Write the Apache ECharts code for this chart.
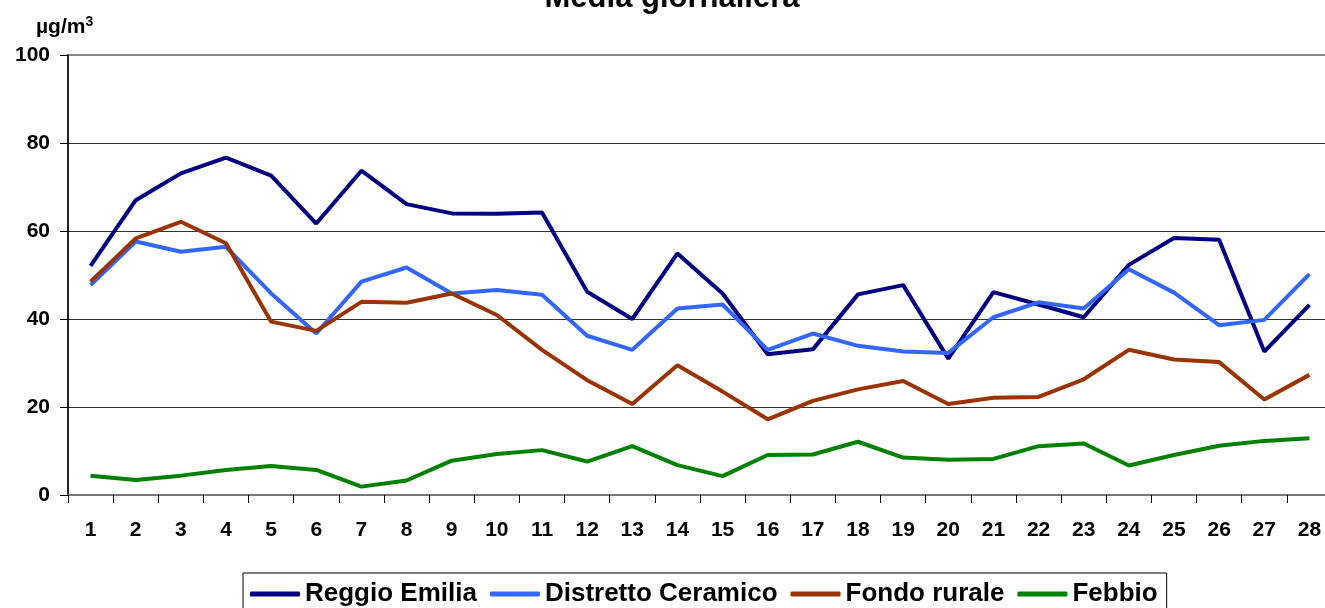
<!DOCTYPE html>
<html>
<head>
<meta charset="utf-8">
<script src="https://cdn.jsdelivr.net/npm/echarts@6/dist/echarts.min.js"></script>
<style>
  html, body { margin: 0; padding: 0; background: #fff; overflow: hidden; }
  #main { width: 1332px; height: 608px; }
</style>
</head>
<body>
<div id="main"></div>
<script>
  var days = ['1','2','3','4','5','6','7','8','9','10','11','12','13','14','15','16','17','18','19','20','21','22','23','24','25','26','27','28'];
  var reggioEmilia = [52.1, 67.0, 73.1, 76.7, 72.6, 61.7, 73.7, 66.1, 64.0, 63.9, 64.2, 46.2, 40.0, 54.9, 45.8, 32.0, 33.1, 45.6, 47.7, 31.0, 46.1, 43.3, 40.4, 52.3, 58.4, 58.0, 32.6, 43.2];
  var distrettoCeramico = [47.7, 57.6, 55.3, 56.4, 45.8, 36.7, 48.5, 51.7, 45.8, 46.6, 45.5, 36.2, 33.0, 42.4, 43.3, 33.0, 36.7, 33.9, 32.6, 32.3, 40.4, 43.8, 42.4, 51.3, 46.0, 38.6, 39.8, 50.2];
  var fondoRurale = [48.5, 58.3, 62.1, 57.2, 39.4, 37.3, 43.9, 43.7, 45.8, 40.9, 33.0, 26.1, 20.7, 29.5, 23.5, 17.2, 21.4, 24.0, 25.9, 20.7, 22.1, 22.3, 26.3, 33.0, 30.8, 30.2, 21.7, 27.3];
  var febbio = [4.4, 3.4, 4.4, 5.7, 6.6, 5.7, 1.9, 3.3, 7.8, 9.3, 10.2, 7.6, 11.1, 6.8, 4.3, 9.1, 9.2, 12.1, 8.5, 8.0, 8.2, 11.1, 11.7, 6.7, 9.1, 11.2, 12.3, 12.9];

  var chart = echarts.init(document.getElementById('main'));
  var font = 'Arial, "Liberation Sans", sans-serif';

  function line(name, data, color) {
    return {
      name: name,
      type: 'line',
      data: data,
      symbol: 'none',
      lineStyle: { color: color, width: 4 },
      itemStyle: { color: color },
      animation: false
    };
  }

  chart.setOption({
    animation: false,
    title: {
      text: 'Media giornaliera',
      left: 667,
      textAlign: 'center',
      top: -22,
      textStyle: { fontFamily: font, fontWeight: 'bold', fontSize: 31, color: '#000' }
    },
    graphic: [{
      type: 'text',
      left: 36,
      top: 15,
      style: {
        text: '{u|µg/m}{s|3}',
        rich: {
          u: { fontFamily: font, fontWeight: 'bold', fontSize: 21, fill: '#000' },
          s: { fontFamily: font, fontWeight: 'bold', fontSize: 14, fill: '#000', verticalAlign: 'top', padding: [0, 0, 10, 0] }
        }
      }
    }],
    legend: {
      top: 573,
      left: 243,
      data: ['Reggio Emilia', 'Distretto Ceramico', 'Fondo rurale', 'Febbio'],
      icon: 'roundRect',
      itemWidth: 50,
      itemHeight: 5,
      itemGap: 13,
      padding: [8, 9, 22, 7],
      borderColor: '#000',
      borderWidth: 1,
      textStyle: { fontFamily: font, fontWeight: 'bold', fontSize: 26, color: '#000' }
    },
    grid: {
      left: 68,
      right: 0,
      top: 55,
      bottom: 113,
      show: true,
      borderColor: '#888',
      borderWidth: 2,
      containLabel: false
    },
    xAxis: {
      type: 'category',
      data: days,
      boundaryGap: true,
      axisLine: { lineStyle: { color: '#777', width: 2 } },
      axisTick: { show: true, interval: 0, length: 8, lineStyle: { color: '#000', width: 1 } },
      axisLabel: { interval: 0, margin: 25, fontFamily: font, fontWeight: 'bold', fontSize: 21, color: '#000' },
      splitLine: { show: false }
    },
    yAxis: {
      type: 'value',
      min: 0,
      max: 100,
      interval: 20,
      axisLine: { show: true, lineStyle: { color: '#000', width: 1.5 } },
      axisTick: { show: true, length: 8, lineStyle: { color: '#000', width: 1 } },
      axisLabel: { margin: 18, fontFamily: font, fontWeight: 'bold', fontSize: 21, color: '#000' },
      splitLine: { show: true, lineStyle: { color: ['#333', '#333', '#333', '#333', '#333', '#888'], width: 1 } }
    },
    series: [
      line('Reggio Emilia', reggioEmilia, '#000080'),
      line('Distretto Ceramico', distrettoCeramico, '#3366FF'),
      line('Fondo rurale', fondoRurale, '#993300'),
      line('Febbio', febbio, '#008000')
    ]
  });
</script>
</body>
</html>
